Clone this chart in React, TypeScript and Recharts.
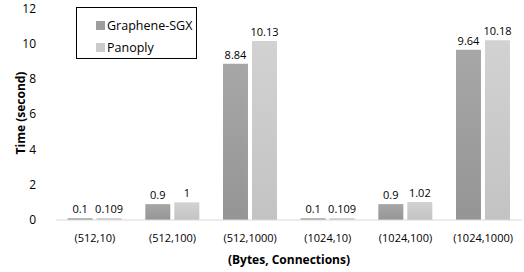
import { BarChart, Bar, XAxis, YAxis, LabelList } from 'recharts';

const categories = ['(512,10)', '(512,100)', '(512,1000)', '(1024,10)', '(1024,100)', '(1024,1000)'];
const grapheneValues = [0.1, 0.9, 8.84, 0.1, 0.9, 9.64];
const panoplyValues = [0.109, 1, 10.13, 0.109, 1.02, 10.18];
const yTicks = [0, 2, 4, 6, 8, 10, 12];

const data = categories.map((name, i) => ({
  name,
  graphene: grapheneValues[i],
  panoply: panoplyValues[i],
}));

const FONT = 'Open Sans, sans-serif';

const legendItems = [
  { label: 'Graphene-SGX', color: '#9e9e9e' },
  { label: 'Panoply', color: '#cbcbcb' },
];

const LegendBox = () => (
  <div
    style={{
      position: 'absolute',
      left: 76,
      top: 7,
      border: '1.5px solid #000',
      width: 121,
      height: 52,
      boxSizing: 'border-box',
      padding: '6px 0 0 19px',
      fontFamily: FONT,
      fontSize: 12.5,
      color: '#000',
      background: '#fff',
      whiteSpace: 'nowrap',
    }}
  >
    {legendItems.map((it) => (
      <div key={it.label} style={{ display: 'flex', alignItems: 'center', height: 22 }}>
        <span style={{ width: 9, height: 9, background: it.color, marginRight: 2, flex: 'none' }} />
        <span>{it.label}</span>
      </div>
    ))}
  </div>
);

const YLabel = () => (
  <text
    x={20}
    y={113}
    transform="rotate(-90 20 113)"
    textAnchor="middle"
    dominantBaseline="central"
    style={{ fontFamily: FONT, fontSize: 12, fontWeight: 'bold', fill: '#000' }}
  >
    Time (second)
  </text>
);

const App = () => {
  return (
    <div style={{ position: 'absolute', left: 0, top: 0, background: '#fff' }}>
      <BarChart
        width={524}
        height={272}
        data={data}
        margin={{ top: 8, right: 2, left: 0, bottom: 0 }}
        barCategoryGap="15%"
        barGap={4}
      >
        <defs>
          <linearGradient id="gGraphene" x1="0" y1="0" x2="0" y2="1">
            <stop offset="0%" stopColor="#a7a7a7" />
            <stop offset="100%" stopColor="#959595" />
          </linearGradient>
          <linearGradient id="gPanoply" x1="0" y1="0" x2="0" y2="1">
            <stop offset="0%" stopColor="#d2d2d2" />
            <stop offset="100%" stopColor="#c3c3c3" />
          </linearGradient>
        </defs>
        <XAxis
          dataKey="name"
          axisLine={{ stroke: '#d9d9d9' }}
          tickLine={false}
          height={52}
          tick={{ fontFamily: FONT, fontSize: 11, fill: '#000' }}
          tickMargin={8}
          interval={0}
          label={{
            value: '(Bytes, Connections)',
            position: 'insideBottom',
            offset: 8,
            style: { fontFamily: FONT, fontSize: 12, fontWeight: 'bold', fill: '#000' },
          }}
        />
        <YAxis
          domain={[0, 12]}
          ticks={yTicks}
          axisLine={false}
          tickLine={false}
          width={56}
          tick={{ fontFamily: FONT, fontSize: 12, fill: '#000' }}
          tickMargin={14}
          label={{ content: () => <YLabel /> }}
        />
        <Bar dataKey="graphene" name="Graphene-SGX" fill="url(#gGraphene)" isAnimationActive={false}>
          <LabelList dataKey="graphene" position="top" offset={5} style={{ fontFamily: FONT, fontSize: 11, fill: '#000' }} />
        </Bar>
        <Bar dataKey="panoply" name="Panoply" fill="url(#gPanoply)" isAnimationActive={false}>
          <LabelList dataKey="panoply" position="top" offset={5} style={{ fontFamily: FONT, fontSize: 11, fill: '#000' }} />
        </Bar>
      </BarChart>
      <LegendBox />
    </div>
  );
};

export default App;
